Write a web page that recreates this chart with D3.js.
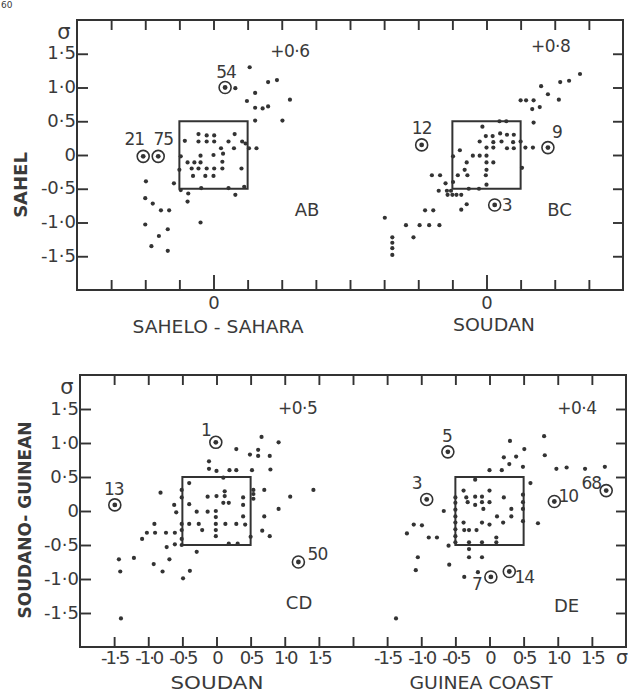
<!DOCTYPE html>
<html><head><meta charset="utf-8">
<script src="https://cdn.jsdelivr.net/npm/d3@7"></script>
<style>
body{margin:0;background:#fff}
svg{display:block}
text{font-family:"DejaVu Sans",sans-serif;fill:#3a3a3a}
</style>
</head><body>
<svg id="c" width="628" height="694"></svg>
<script>
// ---------------- data (panel-local standardized units, sigma) ----------------
const abPoints = [[0.53,1.30],[0.80,1.08],[0.93,1.11],[0.32,0.99],[0.61,0.92],[1.12,0.82],[0.49,0.80],[0.61,0.70],[0.72,0.69],[0.80,0.72],[0.61,0.51],[1.01,0.51],[0.52,0.10],[0.63,0.10],
 [-0.42,0.21],[-0.22,0.31],[-0.10,0.29],[0.01,0.29],[-0.22,0.20],[-0.10,0.20],[0.01,0.20],[0.31,0.31],[0.22,0.20],[0.42,0.20],[0.11,0.10],[0.30,0.10],[0.14,0.02],[-0.48,-0.02],[-0.19,-0.01],[-0.38,-0.11],[-0.28,-0.11],[-0.19,-0.11],[0.0,0.0],[0.13,-0.10],[-0.32,-0.20],[-0.22,-0.20],[-0.10,-0.20],[0.01,-0.20],[0.13,-0.20],[0.41,-0.20],[-0.30,-0.31],[-0.12,-0.31],[0.0,-0.31],[-0.50,-0.22],[-0.58,-0.42],[-0.48,-0.52],[-0.18,-0.49],[0.22,-0.49],[0.45,-0.47],[-0.37,-0.57],[-0.38,-0.69],[0.32,-0.59],[0.47,0.17],
 [-0.99,-0.39],[-1.00,-0.64],[-0.89,-0.72],[-0.77,-0.82],[-0.65,-0.82],[-1.00,-1.03],[-0.67,-1.10],[-0.80,-1.20],[-0.91,-1.35],[-0.67,-1.42],[-0.19,-1.00]];
const abCircled = [[0.17,1.00,"54"],[-1.03,-0.02,"21"],[-0.81,-0.02,"75"]];

const bcPoints = [[1.21,1.10],[1.08,1.08],[0.80,1.02],[0.90,0.90],[1.06,0.82],[0.50,0.81],[0.58,0.81],[0.69,0.81],[0.67,0.68],[0.78,0.71],[0.69,0.48],[1.37,1.20],
 [0.57,0.11],[0.68,0.11],[0.50,0.20],[0.52,-0.19],
 [0.19,0.50],[0.29,0.50],[-0.06,0.42],[-0.01,0.28],[0.09,0.28],[0.20,0.32],[0.30,0.30],[0.40,0.30],[-0.10,0.20],[0.10,0.19],[0.22,0.20],[0.39,0.19],[0.0,0.11],[0.10,0.11],[0.30,0.10],[0.40,0.10],[-0.39,0.07],[-0.49,-0.02],[-0.20,-0.01],[-0.10,-0.01],[0.0,-0.01],[0.10,-0.11],[0.0,-0.11],[-0.29,-0.11],[-0.32,-0.22],[0.0,-0.22],[-0.42,-0.30],[-0.28,-0.30],[-0.01,-0.30],[-0.49,-0.40],[0.0,-0.44],[-0.26,-0.50],[-0.11,-0.50],
 [-0.80,-0.30],[-0.68,-0.30],[-0.60,-0.42],[-0.70,-0.53],[-0.58,-0.53],[-0.52,-0.53],[-0.57,-0.59],[-0.50,-0.59],[-0.44,-0.59],[-0.37,-0.59],[-0.29,-0.73],[-0.37,-0.81],[-0.90,-0.82],[-0.78,-0.82],[-1.49,-0.93],[-1.18,-1.04],[-0.98,-1.04],[-0.84,-1.04],[-0.69,-1.04],[-1.07,-1.22],[-1.38,-1.22],[-1.38,-1.30],[-1.38,-1.38],[-1.38,-1.48]];
const bcCircled = [[-0.95,0.15,"12"],[0.90,0.11,"9"],[0.12,-0.74,"3"]];

const cdPoints = [[0.66,1.09],[0.91,1.01],[0.29,0.91],[0.61,0.90],[0.49,0.83],[0.61,0.81],[0.78,0.81],[-0.11,0.73],[-0.11,0.62],[0.0,0.59],[0.19,0.60],[0.29,0.60],[0.52,0.60],[0.79,0.61],[0.10,0.49],
 [0.54,0.31],[0.54,0.25],[0.54,0.18],[0.70,0.31],[1.42,0.31],[1.08,0.21],[0.91,0.03],[0.70,-0.08],[0.67,-0.29],[0.78,-0.37],[0.50,-0.38],
 [-0.40,0.41],[-0.51,0.31],[-0.51,0.20],[-0.13,0.21],[0.0,0.22],[0.12,0.29],[0.12,0.22],[0.10,0.12],[0.18,0.12],[0.39,0.20],[0.39,0.09],[-0.62,0.09],[-0.59,-0.02],[-0.40,0.10],[-0.29,-0.01],[-0.13,-0.01],[-0.01,0.0],[-0.01,-0.09],[0.39,-0.08],[-0.51,-0.19],[-0.40,-0.19],[-0.26,-0.19],[-0.01,-0.19],[0.13,-0.19],[0.29,-0.19],[0.42,-0.20],[-0.21,-0.28],[-0.01,-0.28],[-0.01,-0.37],[-0.51,-0.28],[-0.51,-0.41],[-0.51,-0.50],[0.18,-0.48],[0.31,-0.48],
 [-0.82,0.27],[-0.91,-0.19],[-1.02,-0.32],[-0.90,-0.32],[-0.74,-0.32],[-0.61,-0.32],[-1.09,-0.41],[-0.73,-0.53],[-0.61,-0.49],[-0.29,-0.60],[-0.69,-0.71],[-1.43,-0.71],[-1.21,-0.69],[-0.92,-0.78],[-1.41,-0.89],[-0.79,-0.89],[-0.39,-0.88],[-0.49,-0.99],[-1.40,-1.58]];
const cdCircled = [[-0.01,1.01,"1"],[-1.49,0.09,"13"],[1.20,-0.75,"50"]];

const dePoints = [[0.80,1.10],[0.30,1.03],[0.51,0.91],[0.21,0.79],[0.39,0.80],[0.81,0.82],[0.29,0.69],[0.49,0.65],[0.18,0.60],[0.0,0.60],[0.98,0.62],[1.13,0.64],[1.40,0.62],[1.69,0.65],[0.60,0.41],[0.71,-0.18],[-0.21,0.46],
 [-0.38,0.30],[-0.50,0.20],[-0.34,0.20],[-0.21,0.21],[-0.11,0.21],[0.0,0.30],[0.21,0.20],[-0.32,0.13],[-0.21,0.09],[-0.11,0.13],[0.0,0.13],[-0.09,0.03],[-0.50,0.12],[-0.50,0.02],[-0.50,-0.08],[0.32,0.03],[0.32,-0.08],[0.11,-0.08],[0.49,0.24],[0.49,0.13],[0.49,0.03],[0.49,-0.15],[-0.38,-0.17],[-0.11,-0.17],[0.0,-0.20],[0.20,-0.17],[-0.50,-0.17],[-0.50,-0.27],[-0.50,-0.37],[-0.37,-0.28],[-0.30,-0.28],[-0.19,-0.28],[0.10,-0.39],[-0.50,-0.46],[-0.30,-0.46],[-0.11,-0.46],[0.10,-0.46],[-0.60,-0.51],[-0.30,-0.56],[-0.30,-0.68],[-0.11,-0.68],[-0.37,-0.97],[-0.17,-0.90],
 [-0.67,0.0],[-1.11,-0.20],[-0.99,-0.21],[-1.21,-0.33],[-0.89,-0.39],[-0.77,-0.39],[-1.05,-0.68],[-1.08,-0.87],[-0.59,-0.79],[-1.37,-1.58]];
const deCircled = [[-0.61,0.87,"5"],[-0.92,0.17,"3"],[0.95,0.14,"10"],[1.71,0.30,"68"],[0.02,-0.97,"7"],[0.29,-0.89,"14"]];

const correlations = ["+0·6","+0·8","+0·5","+0·4"];
const panelNames = ["AB","BC","CD","DE"];
const yTickValues = [-1.5,-1,-0.5,0,0.5,1,1.5];
const yTickLabels = ["-1·5","-1·0","-0·5","0","0·5","1·0","1·5"];
const xTickLabels = ["-1·5","-1·0","-0·5","0","0·5","1·0","1·5"];
const xTitles = [["SAHELO - SAHARA","SOUDAN"],["SOUDAN","GUINEA COAST"]];
const yTitles = ["SAHEL","SOUDANO- GUINEAN"];

// ---------------- layout ----------------
const svg = d3.select("#c");
const ink = "#333";
const rows = [
  {x:d3.scaleLinear([-2,6],[77,623]), y:d3.scaleLinear([-2,2],[290,20])},
  {x:d3.scaleLinear([-2,6],[80,626]), y:d3.scaleLinear([-2,2],[647,375])}
];
const panels = [
  {row:0, off:0, pts:abPoints, circ:abCircled, rPos:[1.12,1.54], nPos:[1.37,-0.80]},
  {row:0, off:4, pts:bcPoints, circ:bcCircled, rPos:[0.94,1.61], nPos:[1.07,-0.81]},
  {row:1, off:0, pts:cdPoints, circ:cdCircled, rPos:[1.19,1.51], nPos:[1.21,-1.34]},
  {row:1, off:4, pts:dePoints, circ:deCircled, rPos:[1.28,1.52], nPos:[1.13,-1.39]}
];
const labelOffsets = {
  "AB54":[1,-16],"AB21":[-9,-17],"AB75":[5,-17],
  "BC12":[0,-17],"BC9":[9,-16],"BC3":[12,0],
  "CD1":[-10,-12],"CD13":[-1,-16],"CD50":[19,-8],
  "DE5":[-1,-16],"DE3":[-10,-16],"DE10":[14,-5],"DE68":[-15,-8],"DE7":[-14,7],"DE14":[15,5]
};
const allTicks = d3.range(-1.5,5.51,0.5);

// page number fragment (top-left corner of the scanned page)
svg.append("text").attr("x",1).attr("y",8).attr("font-size",9).text("60");

rows.forEach((r,ri)=>{
  const [xl,xr]=r.x.range(), [yb,yt]=r.y.range();
  svg.append("rect").attr("x",xl).attr("y",yt).attr("width",xr-xl).attr("height",yb-yt)
    .attr("fill","none").attr("stroke",ink).attr("stroke-width",2);
  const styl = g=>{g.select(".domain").remove(); g.selectAll("line").attr("stroke",ink).attr("stroke-width",1.9);
    g.selectAll("text").attr("font-family","DejaVu Sans").attr("fill","#3a3a3a");};
  svg.append("g").attr("transform",`translate(0,${yt})`)
    .call(d3.axisBottom(r.x).tickValues(allTicks).tickSize(10).tickFormat("")).call(styl);
  svg.append("g").attr("transform",`translate(${xr},0)`)
    .call(d3.axisLeft(r.y).tickValues(yTickValues).tickSize(10).tickFormat("")).call(styl);
  svg.append("g").attr("transform",`translate(${xl},0)`)
    .call(d3.axisLeft(r.y).tickValues(yTickValues).tickSizeInner(-11).tickSizeOuter(0).tickPadding(1)
      .tickFormat((d,i)=>yTickLabels[i])).call(styl)
    .call(g=>g.selectAll("text").attr("font-size",18).attr("dy","0.28em"));
  const bx = d3.axisBottom(r.x).tickValues(allTicks).tickSizeInner(-10).tickSizeOuter(0);
  if(ri===0){
    bx.tickPadding(6).tickFormat(d=>(Math.abs(d)<1e-9||Math.abs(d-4)<1e-9)?"0":"");
  } else {
    bx.tickPadding(4).tickFormat(d=>{
      if(Math.abs(d-2)<1e-9) return "";
      const loc = d<2? d : d-4;
      return xTickLabels[yTickValues.findIndex(v=>Math.abs(v-loc)<1e-9)];
    });
  }
  svg.append("g").attr("transform",`translate(0,${yb})`).call(bx).call(styl)
    .call(g=>{
      g.selectAll("text").attr("font-size",18).attr("letter-spacing",ri===0?0:-2);
      if(ri===0) g.selectAll(".tick line").filter(d=>Math.abs(d)<1e-9||Math.abs(d-4)<1e-9).attr("y2",-15);
    });
  svg.append("text").attr("x",xl-13).attr("y",r.y(1.82)).attr("text-anchor","middle")
    .attr("dominant-baseline","central").attr("font-size",21).text("σ");
  const yc = ri===0?185:520, xc = ri===0?20:25;
  svg.append("text").attr("transform",`translate(${xc},${yc}) rotate(-90)`)
    .attr("text-anchor","middle").attr("dominant-baseline","central")
    .attr("font-size",ri===0?18:17).attr("font-weight","bold").attr("fill","#2e2e2e").text(yTitles[ri]);
});
svg.append("text").attr("x",rows[1].x(5.94)).attr("y",664).attr("text-anchor","middle")
  .attr("font-size",19).text("σ");

const xt = [
  {t:xTitles[0][0], cx:218, by:333, w:171},
  {t:xTitles[0][1], cx:494, by:331, w:82},
  {t:xTitles[1][0], cx:217, by:689, w:93},
  {t:xTitles[1][1], cx:481, by:689, w:143}
];
xt.forEach(o=>{
  svg.append("text").attr("x",o.cx).attr("y",o.by).attr("text-anchor","middle")
    .attr("font-size",18).attr("textLength",o.w).attr("lengthAdjust","spacingAndGlyphs").text(o.t);
});

panels.forEach((p,pi)=>{
  const r = rows[p.row];
  const X = v=>r.x(v+p.off), Y = v=>r.y(v);
  const g = svg.append("g");
  g.append("rect").attr("x",X(-0.5)).attr("y",Y(0.5)).attr("width",X(0.5)-X(-0.5)).attr("height",Y(-0.5)-Y(0.5))
    .attr("fill","none").attr("stroke",ink).attr("stroke-width",2);
  g.selectAll("circle.pt").data(p.pts).join("circle").attr("class","pt")
    .attr("cx",d=>X(d[0])).attr("cy",d=>Y(d[1])).attr("r",2.1).attr("fill",ink);
  const c = g.selectAll("g.circ").data(p.circ).join("g").attr("class","circ");
  c.append("circle").attr("cx",d=>X(d[0])).attr("cy",d=>Y(d[1])).attr("r",6)
    .attr("fill","none").attr("stroke",ink).attr("stroke-width",1.6);
  c.append("circle").attr("cx",d=>X(d[0])).attr("cy",d=>Y(d[1])).attr("r",2.4).attr("fill",ink);
  c.append("text").attr("x",d=>X(d[0])+labelOffsets[panelNames[pi]+d[2]][0])
    .attr("y",d=>Y(d[1])+labelOffsets[panelNames[pi]+d[2]][1])
    .attr("text-anchor","middle").attr("dominant-baseline","central")
    .attr("font-size",17).attr("letter-spacing",-1).text(d=>d[2]);
  g.append("text").attr("x",X(p.rPos[0])).attr("y",Y(p.rPos[1])).attr("text-anchor","middle")
    .attr("dominant-baseline","central").attr("font-size",17).attr("letter-spacing",-0.5).text(correlations[pi]);
  g.append("text").attr("x",X(p.nPos[0])).attr("y",Y(p.nPos[1])).attr("text-anchor","middle")
    .attr("dominant-baseline","central").attr("font-size",18).text(panelNames[pi]);
});
</script>
</body></html>
